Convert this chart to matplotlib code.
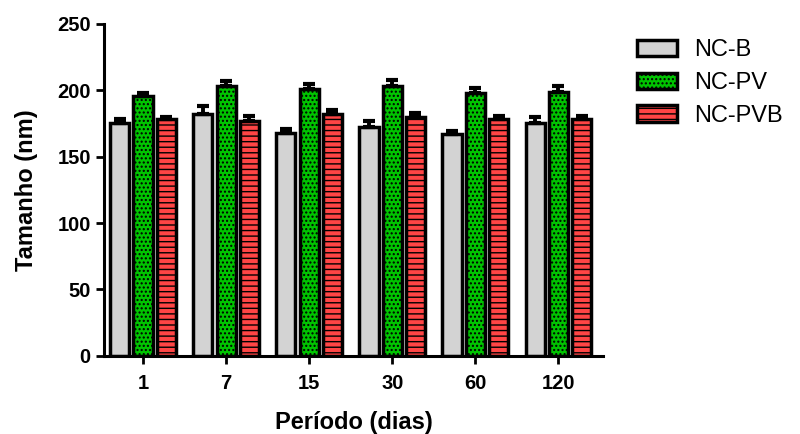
import numpy as np
import matplotlib.pyplot as plt

plt.rcParams['font.family'] = ['Liberation Sans', 'DejaVu Sans']
plt.rcParams['hatch.linewidth'] = 1.0

# Particle size over storage time
days = ['1', '7', '15', '30', '60', '120']
nc_b = [175, 182, 168, 172, 167, 175]
nc_b_err = [3, 6, 3, 5, 2, 5]
nc_pv = [196, 203, 201, 203, 198, 199]
nc_pv_err = [2, 4, 4, 5, 4, 4]
nc_pvb = [178, 177, 182, 180, 178, 178]
nc_pvb_err = [2, 4, 3, 3, 3, 3]

series = [
    ('NC-B', nc_b, nc_b_err, '#d3d3d3', None),
    ('NC-PV', nc_pv, nc_pv_err, '#00c400', '....'),
    ('NC-PVB', nc_pvb, nc_pvb_err, '#ff4545', '---'),
]

x = np.arange(len(days))
width = 0.23
step = 0.28

fig = plt.figure(figsize=(8, 4.34), dpi=100)
ax = fig.add_axes([0.13, 0.18, 0.624, 0.765])

for i, (name, vals, errs, color, hatch) in enumerate(series):
    pos = x + (i - 1) * step
    ax.bar(pos, vals, width, color=color, edgecolor='black', linewidth=2.5,
           hatch=hatch, label=name, zorder=2)
    ax.errorbar(pos, vals, yerr=[np.zeros(len(errs)), errs], fmt='none',
                ecolor='black', elinewidth=2.8, capsize=4.5, capthick=3, zorder=3)

ax.set_xlim(-0.47, 5.54)
ax.set_ylim(0, 250)
ax.set_yticks(range(0, 251, 50))
ax.set_xticks(x)
ax.set_xticklabels(days)

for s in ['top', 'right']:
    ax.spines[s].set_visible(False)
for s in ['left', 'bottom']:
    ax.spines[s].set_linewidth(2.2)
ax.tick_params(width=2, length=6, labelsize=14.5)
ax.tick_params(axis='x', pad=7)
for lab in ax.get_xticklabels() + ax.get_yticklabels():
    lab.set_fontweight('bold')

ax.set_xlabel('Período (dias)', fontsize=17, fontweight='bold', labelpad=13)
ax.set_ylabel('Tamanho (nm)', fontsize=17, fontweight='bold', labelpad=14)

fig.legend(loc='upper left', bbox_to_anchor=(0.77, 0.958), frameon=False,
           fontsize=17, handlelength=1.67, handleheight=0.7, handletextpad=0.75,
           labelspacing=0.45)

plt.savefig('out.png', dpi=100)
